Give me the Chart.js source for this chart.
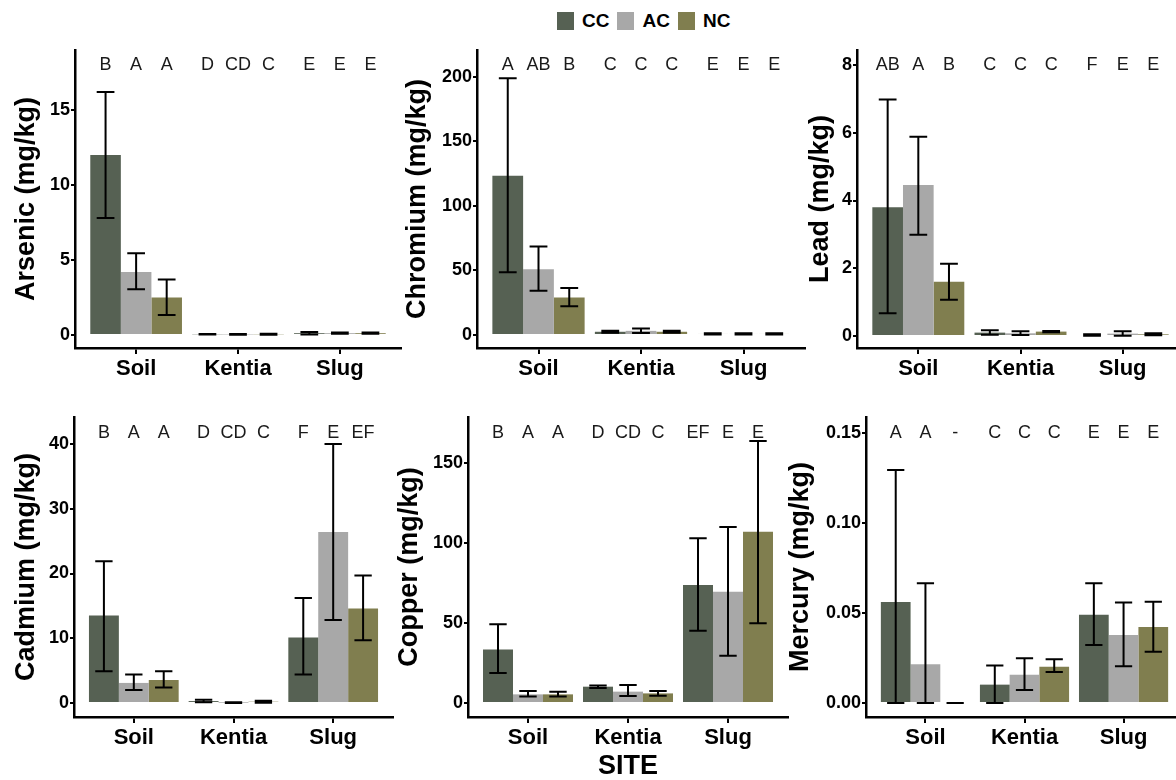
<!DOCTYPE html>
<html><head><meta charset="utf-8">
<script src="https://cdn.jsdelivr.net/npm/chart.js@4.4.1/dist/chart.umd.min.js"></script>
<style>
html,body{margin:0;padding:0;background:#fff;}
body{width:1176px;height:780px;overflow:hidden;position:relative;font-family:"Liberation Sans",Arial,sans-serif;}
canvas.pc{position:absolute;}
#legend{position:absolute;left:557px;top:12px;display:flex;align-items:center;height:18px;font-weight:bold;font-size:19px;color:#000;}
.sw{width:17px;height:18px;margin-right:8px;}
.lt{margin-right:8px;line-height:18px;}
</style></head><body>
<div id="legend"></div>
<canvas id="c1" class="pc"></canvas>
<canvas id="c2" class="pc"></canvas>
<canvas id="c3" class="pc"></canvas>
<canvas id="c4" class="pc"></canvas>
<canvas id="c5" class="pc"></canvas>
<canvas id="c6" class="pc"></canvas>
<script>
// ---------- DATA ----------
const categories = ['Soil', 'Kentia', 'Slug'];
const groups = ['CC', 'AC', 'NC'];
const groupColors = ['#566153', '#a8a8a8', '#807e4f'];

const arsenicCC = [12.0, 0.05, 0.12];
const arsenicAC = [4.2, 0.04, 0.12];
const arsenicNC = [2.5, 0.05, 0.12];
const arsenicCCErr = [[7.8, 16.2], [0.03, 0.07], [0.04, 0.20]];
const arsenicACErr = [[3.05, 5.45], [0.02, 0.06], [0.08, 0.16]];
const arsenicNCErr = [[1.33, 3.7], [0.02, 0.08], [0.08, 0.16]];
const arsenicLetters = ['B', 'A', 'A', 'D', 'CD', 'C', 'E', 'E', 'E'];
const arsenicTicks = [0, 5, 10, 15];
const arsenicTickLabels = ['0', '5', '10', '15'];

const chromiumCC = [123.5, 2.5, 0.8];
const chromiumAC = [51, 3.2, 0.8];
const chromiumNC = [29, 2.5, 0.8];
const chromiumCCErr = [[48.6, 199], [1.8, 3.2], [0.3, 1.3]];
const chromiumACErr = [[34.3, 68.5], [1.5, 5.0], [0.3, 1.3]];
const chromiumNCErr = [[22.2, 36.4], [1.8, 3.2], [0.3, 1.3]];
const chromiumLetters = ['A', 'AB', 'B', 'C', 'C', 'C', 'E', 'E', 'E'];
const chromiumTicks = [0, 50, 100, 150, 200];
const chromiumTickLabels = ['0', '50', '100', '150', '200'];

const leadCC = [3.80, 0.10, 0.03];
const leadAC = [4.46, 0.08, 0.07];
const leadNC = [1.60, 0.13, 0.05];
const leadCCErr = [[0.67, 6.98], [0.04, 0.17], [0.01, 0.05]];
const leadACErr = [[2.99, 5.88], [0.03, 0.14], [0.01, 0.14]];
const leadNCErr = [[1.07, 2.13], [0.11, 0.15], [0.02, 0.08]];
const leadLetters = ['AB', 'A', 'B', 'C', 'C', 'C', 'F', 'E', 'E'];
const leadTicks = [0, 2, 4, 6, 8];
const leadTickLabels = ['0', '2', '4', '6', '8'];

const cadmiumCC = [13.5, 0.3, 10.1];
const cadmiumAC = [3.1, 0.05, 26.4];
const cadmiumNC = [3.55, 0.2, 14.6];
const cadmiumCCErr = [[4.9, 21.9], [0.1, 0.5], [4.4, 16.2]];
const cadmiumACErr = [[2.0, 4.4], [0.0, 0.1], [12.8, 40.0]];
const cadmiumNCErr = [[2.4, 4.9], [0.05, 0.35], [9.7, 19.7]];
const cadmiumLetters = ['B', 'A', 'A', 'D', 'CD', 'C', 'F', 'E', 'EF'];
const cadmiumTicks = [0, 10, 20, 30, 40];
const cadmiumTickLabels = ['0', '10', '20', '30', '40'];

const copperCC = [33.5, 10.2, 73.75];
const copperAC = [5.4, 7.1, 69.6];
const copperNC = [5.4, 6.0, 107];
const copperCCErr = [[18.75, 49.2], [9.3, 11.0], [45.2, 103]];
const copperACErr = [[4.0, 7.5], [4.4, 11.25], [29.5, 110]];
const copperNCErr = [[4.0, 7.0], [4.5, 7.5], [49.8, 163.75]];
const copperLetters = ['B', 'A', 'A', 'D', 'CD', 'C', 'EF', 'E', 'E'];
const copperTicks = [0, 50, 100, 150];
const copperTickLabels = ['0', '50', '100', '150'];

const mercuryCC = [0.0561, 0.0102, 0.049];
const mercuryAC = [0.0215, 0.0157, 0.0378];
const mercuryNC = [0, 0.0202, 0.0422];
const mercuryCCErr = [[0, 0.1294], [0, 0.0209], [0.0322, 0.0665]];
const mercuryACErr = [[0, 0.0665], [0.0072, 0.0248], [0.0204, 0.0559]];
const mercuryNCErr = [[0, 0], [0.0172, 0.0243], [0.0285, 0.0563]];
const mercuryLetters = ['A', 'A', '-', 'C', 'C', 'C', 'E', 'E', 'E'];
const mercuryTicks = [0, 0.05, 0.10, 0.15];
const mercuryTickLabels = ['0.00', '0.05', '0.10', '0.15'];

// ---------- LEGEND ----------
const legendEl = document.getElementById('legend');
groups.forEach((g, i) => {
  const sw = document.createElement('div'); sw.className = 'sw'; sw.style.background = groupColors[i];
  const t = document.createElement('div'); t.className = 'lt'; t.textContent = g;
  legendEl.appendChild(sw); legendEl.appendChild(t);
});

// ---------- CHART BUILDER ----------
const FONT = '"Liberation Sans", Arial, sans-serif';
function makePanel(cfg) {
  const cv = document.getElementById(cfg.id);
  cv.width = cfg.W; cv.height = cfg.H;
  cv.style.left = cfg.L + 'px'; cv.style.top = cfg.T + 'px';
  cv.style.width = cfg.W + 'px'; cv.style.height = cfg.H + 'px';
  const a = cfg.area;
  const yW = a.l - cfg.L, padTop = a.t - cfg.T, padRight = cfg.L + cfg.W - a.r, xH = cfg.T + cfg.H - a.b;
  const series = cfg.series, errs = cfg.errs, letters = cfg.letters;
  const overlay = {
    id: 'errLetters_' + cfg.id,
    afterDatasetsDraw(chart) {
      const ctx = chart.ctx, ys = chart.scales.y;
      ctx.save();
      chart.data.datasets.forEach((ds, i) => {
        chart.getDatasetMeta(i).data.forEach((bar, j) => {
          const lo = errs[i][j][0], hi = errs[i][j][1];
          const x = bar.x, w = bar.width * 0.58;
          const y1 = ys.getPixelForValue(lo), y2 = ys.getPixelForValue(hi);
          ctx.strokeStyle = '#000'; ctx.lineWidth = 2;
          ctx.beginPath();
          ctx.moveTo(x, y1); ctx.lineTo(x, y2);
          ctx.moveTo(x - w / 2, y1); ctx.lineTo(x + w / 2, y1);
          ctx.moveTo(x - w / 2, y2); ctx.lineTo(x + w / 2, y2);
          ctx.stroke();
          ctx.fillStyle = '#1a1a1a';
          ctx.font = '18px ' + FONT;
          ctx.textAlign = 'center'; ctx.textBaseline = 'middle';
          ctx.fillText(letters[j * 3 + i], x, chart.chartArea.top + cfg.letterOff);
        });
      });
      ctx.restore();
    }
  };
  return new Chart(cv, {
    type: 'bar',
    data: {
      datasets: groups.map((g, i) => ({
        label: g,
        data: categories.map((c, j) => ({ x: j, y: series[i][j] })),
        backgroundColor: groupColors[i],
        borderWidth: 0,
        categoryPercentage: 0.9,
        barPercentage: 1.0
      }))
    },
    options: {
      responsive: false,
      animation: false,
      events: [],
      layout: { padding: { top: padTop, right: padRight, left: 0, bottom: 0 } },
      plugins: { legend: { display: false }, tooltip: { enabled: false } },
      scales: {
        x: {
          type: 'linear', min: -0.6, max: 2.6, offset: false,
          afterBuildTicks: s => { s.ticks = categories.map((c, j) => ({ value: j })); },
          afterFit: s => { s.height = xH; },
          ticks: { callback: v => categories[v], font: { family: FONT, size: 22, weight: 'bold' }, color: '#000', padding: 2, autoSkip: false, maxRotation: 0 },
          grid: { display: true, offset: false, drawOnChartArea: false, drawTicks: true, tickLength: 6, color: '#000', lineWidth: 2 },
          border: { display: true, color: '#000', width: 2.5 },
          title: cfg.xTitle ? { display: true, text: cfg.xTitle, font: { family: FONT, size: 27, weight: 'bold', lineHeight: 1 }, color: '#000', padding: { top: 0, bottom: 0 } } : { display: false }
        },
        y: {
          type: 'linear', min: cfg.yMin, max: cfg.yMax,
          afterBuildTicks: s => { s.ticks = cfg.ticks.map(v => ({ value: v })); },
          afterFit: s => { s.width = yW; },
          ticks: { callback: (v) => cfg.tickLabels[cfg.ticks.indexOf(v)], font: { family: FONT, size: 18, weight: 'bold' }, color: '#000', padding: 1 },
          grid: { display: true, drawOnChartArea: false, drawTicks: true, tickLength: 4, color: '#000', lineWidth: 2 },
          border: { display: true, color: '#000', width: 2.5 },
          title: { display: true, text: cfg.title, font: { family: FONT, size: 27, weight: 'bold', lineHeight: 1 }, color: '#000', padding: { top: cfg.titleX - cfg.L - 13.5, bottom: 0 } }
        }
      }
    },
    plugins: [overlay]
  });
}

makePanel({ id: 'c1', L: 0, T: 30, W: 410, H: 360, area: { l: 75, t: 50, r: 401, b: 348 }, titleX: 27, letterOff: 15,
  title: 'Arsenic (mg/kg)', yMin: -0.867, yMax: 19.0, ticks: arsenicTicks, tickLabels: arsenicTickLabels,
  series: [arsenicCC, arsenicAC, arsenicNC], errs: [arsenicCCErr, arsenicACErr, arsenicNCErr], letters: arsenicLetters });
makePanel({ id: 'c2', L: 395, T: 30, W: 420, H: 360, area: { l: 477, t: 50, r: 805, b: 348 }, titleX: 418, letterOff: 15,
  title: 'Chromium (mg/kg)', yMin: -10.08, yMax: 220.9, ticks: chromiumTicks, tickLabels: chromiumTickLabels,
  series: [chromiumCC, chromiumAC, chromiumNC], errs: [chromiumCCErr, chromiumACErr, chromiumNCErr], letters: chromiumLetters });
makePanel({ id: 'c3', L: 785, T: 30, W: 410, H: 360, area: { l: 857, t: 50, r: 1184, b: 348 }, titleX: 821, letterOff: 15,
  title: 'Lead (mg/kg)', yMin: -0.354, yMax: 8.443, ticks: leadTicks, tickLabels: leadTickLabels,
  series: [leadCC, leadAC, leadNC], errs: [leadCCErr, leadACErr, leadNCErr], letters: leadLetters });
makePanel({ id: 'c4', L: 0, T: 395, W: 400, H: 385, area: { l: 74, t: 417, r: 393, b: 717 }, titleX: 27, letterOff: 16,
  title: 'Cadmium (mg/kg)', yMin: -2.162, yMax: 44.17, ticks: cadmiumTicks, tickLabels: cadmiumTickLabels,
  series: [cadmiumCC, cadmiumAC, cadmiumNC], errs: [cadmiumCCErr, cadmiumACErr, cadmiumNCErr], letters: cadmiumLetters });
makePanel({ id: 'c5', L: 385, T: 395, W: 410, H: 385, area: { l: 468, t: 417, r: 788, b: 717 }, titleX: 410, letterOff: 16,
  title: 'Copper (mg/kg)', yMin: -8.75, yMax: 178.75, ticks: copperTicks, tickLabels: copperTickLabels, xTitle: 'SITE',
  series: [copperCC, copperAC, copperNC], errs: [copperCCErr, copperACErr, copperNCErr], letters: copperLetters });
makePanel({ id: 'c6', L: 780, T: 395, W: 415, H: 385, area: { l: 866, t: 417, r: 1183, b: 717 }, titleX: 801, letterOff: 16,
  title: 'Mercury (mg/kg)', yMin: -0.00778, yMax: 0.1589, ticks: mercuryTicks, tickLabels: mercuryTickLabels,
  series: [mercuryCC, mercuryAC, mercuryNC], errs: [mercuryCCErr, mercuryACErr, mercuryNCErr], letters: mercuryLetters });
</script>
</body></html>
